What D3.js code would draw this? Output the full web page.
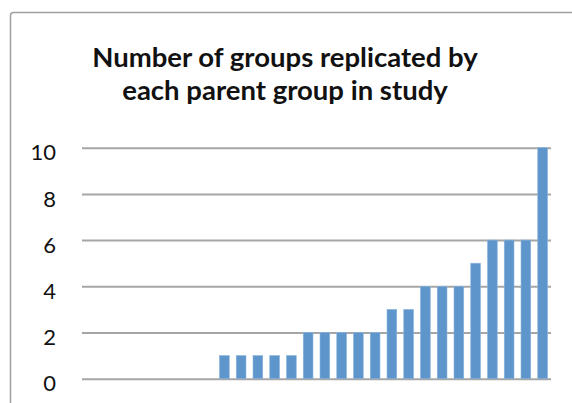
<!DOCTYPE html>
<html>
<head>
<meta charset="utf-8">
<script src="https://cdn.jsdelivr.net/npm/d3@7"></script>
<style>
  html, body { margin: 0; padding: 0; background: #fff; }
  svg { display: block; }
</style>
</head>
<body>
<svg id="chart" width="572" height="403"></svg>
<script>
// ---- data ----
const titleLines = ["Number of groups replicated by", "each parent group in study"];
const categories = ["1","2","3","4","5","6","7","8","9","10","11","12","13","14",
                    "15","16","17","18","19","20","21","22","23","24","25","26","27","28"];
const values = [0,0,0,0,0,0,0,0,1,1,1,1,1,2,2,2,2,2,3,3,4,4,4,5,6,6,6,10];
const yTicks = [0, 2, 4, 6, 8, 10];

// ---- layout ----
const svg = d3.select("#chart");
const plot = { left: 82, right: 551, top: 147.7, bottom: 378.7 };

// frame (cropped on right and bottom)
svg.append("rect")
  .attr("x", 10.5).attr("y", 12.5)
  .attr("width", 620).attr("height", 460)
  .attr("rx", 3)
  .attr("fill", "#fff")
  .attr("stroke", "#a0a0a0")
  .attr("stroke-width", 1.5);

const x = d3.scaleBand()
  .domain(categories)
  .range([plot.left, plot.right])
  .paddingInner(0.42)
  .paddingOuter(0.21);

const y = d3.scaleLinear()
  .domain([0, 10])
  .range([plot.bottom, plot.top]);

// gridlines + labels via axis
const yAxis = d3.axisLeft(y)
  .tickValues(yTicks)
  .tickSize(-(plot.right - plot.left))
  .tickPadding(26)
  .tickFormat(d3.format("d"));

const gAxis = svg.append("g")
  .attr("transform", `translate(${plot.left},0)`)
  .call(yAxis);
gAxis.select(".domain").remove();
gAxis.selectAll(".tick line")
  .attr("stroke", "#a6a6a6")
  .attr("stroke-width", 2);
gAxis.selectAll(".tick text")
  .attr("font-family", "Lato, 'Open Sans', sans-serif")
  .attr("font-size", 22)
  .attr("fill", "#111")
  .attr("dy", "0.55em");

// bars
svg.append("g")
  .selectAll("rect")
  .data(values.map((v, i) => ({ c: categories[i], v })))
  .join("rect")
  .attr("x", d => x(d.c))
  .attr("width", x.bandwidth())
  .attr("y", d => y(d.v))
  .attr("height", d => y(0) - y(d.v))
  .attr("fill", "#5e96cb")
  .attr("stroke", "#8ab3dc")
  .attr("stroke-width", 0.6);

// title
const title = svg.append("text")
  .attr("text-anchor", "middle")
  .attr("font-family", "Lato, 'Open Sans', sans-serif")
  .attr("font-weight", "bold")
  .attr("font-size", 27.5)
  .attr("fill", "#111");
title.selectAll("tspan")
  .data(titleLines)
  .join("tspan")
  .attr("x", 285)
  .attr("y", (d, i) => 67 + i * 33)
  .text(d => d);
</script>
</body>
</html>
